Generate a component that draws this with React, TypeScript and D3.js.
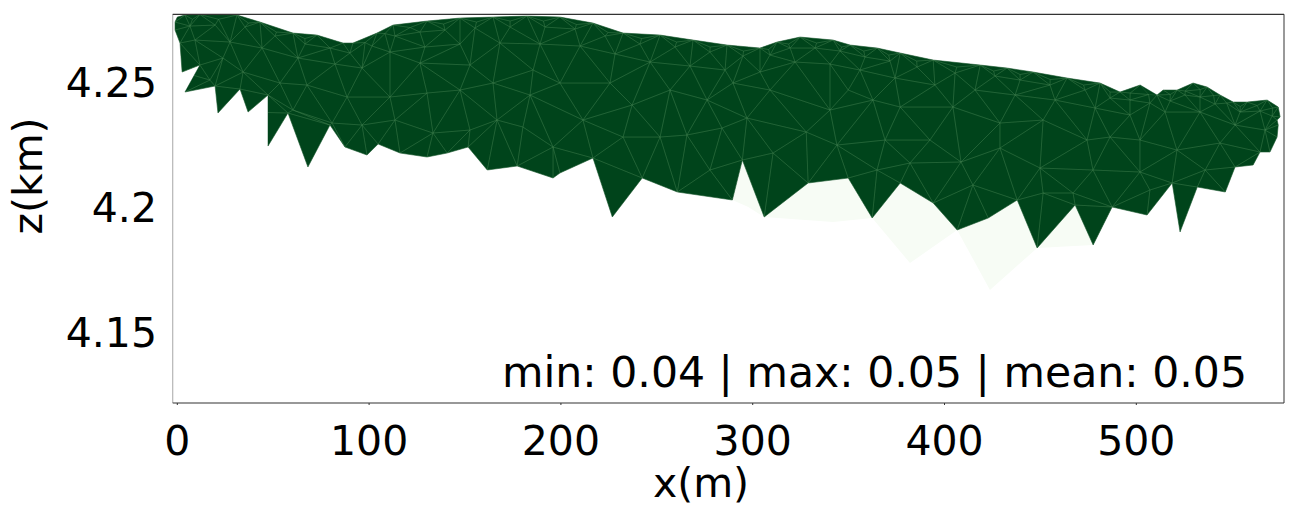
import React from 'react';
import * as d3 from 'd3';

// Surface (top boundary) of the mesh, left to right: x in m, z in km
const topX = [-1.2, 0, 4.0, 11.8, 31.1, 43.1, 60.3, 72.8, 86.4, 91.6, 104.1, 112.5, 130.2, 147.4, 164.6, 182.3, 199.5, 216.7, 232.4, 251.7, 268.9, 286.6, 303.8, 312.7, 324.7, 341.9, 350.8, 364.9, 376.9, 394.1, 418.6, 432.6, 446.2, 463.9, 481.1, 491.5, 502.0, 510.8, 514.0, 521.3, 529.6, 536.9, 543.7, 550.5, 557.8, 568.2, 574.0, 575.0];
const topZ = [4.2739, 4.2759, 4.2767, 4.2769, 4.2767, 4.2739, 4.2695, 4.2687, 4.2655, 4.2655, 4.2695, 4.2727, 4.2743, 4.2755, 4.2759, 4.2763, 4.2759, 4.2735, 4.2695, 4.2687, 4.2667, 4.2647, 4.2635, 4.2659, 4.2679, 4.2667, 4.2647, 4.2635, 4.2615, 4.2587, 4.2567, 4.2555, 4.2539, 4.2515, 4.2495, 4.2459, 4.2487, 4.2447, 4.2467, 4.2467, 4.2495, 4.2479, 4.2447, 4.2419, 4.2419, 4.2427, 4.2399, 4.2359];

// Lower boundary of the high-value cells, right to left
const bottomX = [573.4, 574.0, 573.4, 569.7, 564.5, 560.9, 551.5, 546.4, 531.8, 522.8, 518.7, 505.6, 487.4, 477.5, 468.1, 448.3, 437.9, 422.8, 406.6, 394.1, 376.9, 362.3, 349.8, 328.9, 306.0, 294.6, 289.4, 260.7, 242.4, 226.8, 216.7, 199.5, 195.9, 177.2, 161.6, 151.6, 140.7, 130.2, 116.1, 104.7, 98.9, 87.4, 79.6, 68.1, 57.7, 47.3, 47.3, 36.9, 32.7, 21.2, 19.7, 4.0, 11.8, 2.5, 1.4, -1.2];
const bottomZ = [4.2347, 4.2327, 4.2279, 4.2219, 4.2219, 4.2167, 4.2159, 4.2059, 4.2079, 4.1899, 4.2095, 4.1967, 4.1999, 4.1847, 4.2007, 4.1835, 4.2027, 4.1955, 4.1907, 4.2015, 4.2095, 4.1955, 4.2115, 4.2095, 4.1959, 4.2187, 4.2027, 4.2059, 4.2115, 4.1959, 4.2195, 4.2135, 4.2115, 4.2163, 4.2147, 4.2239, 4.2215, 4.2199, 4.2215, 4.2251, 4.2207, 4.2239, 4.2327, 4.2159, 4.2375, 4.2243, 4.2447, 4.2379, 4.2471, 4.2375, 4.2483, 4.2459, 4.2567, 4.2539, 4.2655, 4.2707];

// Mesh nodes very close below the surface (dense electrode zone)
const row0X = [7.9, 21.5, 37.1, 51.7, 66.5, 97.9, 108.3, 121.4, 138.8, 156.0, 173.5, 190.9, 208.1, 224.6, 242.1, 260.3, 277.8, 295.2, 308.3, 318.7, 333.3, 346.4, 357.9, 370.9, 385.5, 406.4, 425.6, 439.4, 455.1, 472.5, 486.3, 496.8, 506.4, 517.7, 525.5, 533.3, 540.3, 547.1, 554.2, 563.0, 571.1];
const row0Z = [4.2750, 4.2750, 4.2735, 4.2699, 4.2673, 4.2657, 4.2693, 4.2717, 4.2731, 4.2739, 4.2743, 4.2743, 4.2729, 4.2697, 4.2673, 4.2659, 4.2639, 4.2623, 4.2629, 4.2651, 4.2655, 4.2639, 4.2623, 4.2607, 4.2583, 4.2559, 4.2543, 4.2529, 4.2509, 4.2487, 4.2459, 4.2455, 4.2449, 4.2449, 4.2463, 4.2469, 4.2445, 4.2415, 4.2401, 4.2405, 4.2395];

// Mesh nodes just below the surface
const row1X = [6.6, 19.7, 35.3, 50.9, 66.6, 79.6, 90.0, 101.5, 113.5, 126.5, 139.6, 155.2, 173.5, 191.7, 207.4, 223.0, 241.2, 259.5, 277.7, 294.9, 309.0, 319.5, 332.5, 345.5, 358.6, 371.6, 385.7, 405.5, 426.3, 439.4, 455.0, 473.3, 486.3, 496.7, 507.1, 517.6, 525.4, 533.2, 541.0, 554.1, 564.5, 570.8];
const row1Z = [4.2723, 4.2727, 4.2719, 4.2683, 4.2651, 4.2635, 4.2615, 4.2643, 4.2683, 4.2699, 4.2707, 4.2715, 4.2719, 4.2719, 4.2711, 4.2683, 4.2651, 4.2639, 4.2619, 4.2603, 4.2607, 4.2635, 4.2635, 4.2623, 4.2599, 4.2583, 4.2559, 4.2535, 4.2523, 4.2507, 4.2487, 4.2467, 4.2435, 4.2427, 4.2415, 4.2423, 4.2447, 4.2439, 4.2411, 4.2379, 4.2383, 4.2363];
const row2X = [9.2, 27.5, 44.2, 62.9, 82.2, 96.3, 110.9, 129.1, 147.4, 168.2, 189.1, 210.0, 228.2, 246.5, 267.3, 285.6, 303.8, 322.1, 340.3, 355.9, 374.2, 395.0, 415.9, 436.8, 457.6, 478.5, 496.7, 515.0, 533.2, 551.5, 567.1];
const row2Z = [4.2667, 4.2659, 4.2635, 4.2595, 4.2571, 4.2555, 4.2619, 4.2639, 4.2651, 4.2655, 4.2651, 4.2643, 4.2611, 4.2579, 4.2563, 4.2547, 4.2539, 4.2579, 4.2571, 4.2547, 4.2515, 4.2487, 4.2467, 4.2447, 4.2427, 4.2395, 4.2367, 4.2379, 4.2379, 4.2327, 4.2307];

// Deeper mesh nodes
const innerX = [23.8, 34.3, 17.0, 53.5, 67.6, 60.3, 88.5, 80.7, 96.3, 110.9, 113.5, 126.5, 130.2, 133.3, 147.4, 152.6, 152.6, 164.6, 166.7, 180.2, 183.9, 185.5, 195.9, 199.5, 211.5, 225.6, 232.4, 237.1, 251.7, 256.9, 265.7, 276.2, 277.7, 284.0, 289.7, 297.0, 309.0, 310.6, 327.9, 340.3, 343.9, 349.8, 362.7, 364.8, 369.0, 376.9, 382.0, 392.4, 404.4, 408.6, 414.8, 428.9, 428.9, 449.8, 451.4, 451.4, 474.3, 477.4, 486.3, 501.9, 501.9, 521.2, 543.6, 467.0, 535.9, 507.1];
const innerZ = [4.2595, 4.2539, 4.2507, 4.2495, 4.2487, 4.2387, 4.2439, 4.2335, 4.2327, 4.2439, 4.2347, 4.2575, 4.2455, 4.2295, 4.2467, 4.2567, 4.2307, 4.2495, 4.2347, 4.2319, 4.2447, 4.2547, 4.2239, 4.2495, 4.2347, 4.2495, 4.2279, 4.2407, 4.2279, 4.2467, 4.2287, 4.2427, 4.2147, 4.2315, 4.2495, 4.2355, 4.2467, 4.2215, 4.2299, 4.2387, 4.2247, 4.2467, 4.2427, 4.2147, 4.2267, 4.2399, 4.2175, 4.2267, 4.2399, 4.2179, 4.2087, 4.2235, 4.2335, 4.2155, 4.2347, 4.2055, 4.2267, 4.2147, 4.2279, 4.2267, 4.2139, 4.2227, 4.2255, 4.2055, 4.2147, 4.2067];

// Lower boundary of the low-value (faint) cells, left to right
const faintX = [289.4, 297.7, 306.0, 341.9, 362.3, 382.0, 406.6, 423.7, 448.3, 477.5];
const faintZ = [4.2027, 4.1999, 4.1959, 4.1939, 4.1955, 4.1775, 4.1907, 4.1667, 4.1835, 4.1847];

const xTicks = [0, 100, 200, 300, 400, 500];
const zTicks = [4.15, 4.2, 4.25];
const xDomain = [-2.4, 577];
const zDomain = [4.1215, 4.277];
const statMin = 0.04;
const statMax = 0.05;
const statMean = 0.05;
const colorDomain = [statMin, statMax];

export default function App() {
  const W = 1289, H = 510;
  const left = 172.7, right = 1284, top = 14.3, bottom = 403;
  const x = d3.scaleLinear().domain(xDomain).range([left, right]);
  const y = d3.scaleLinear().domain(zDomain).range([bottom, top]);
  const color = d3.scaleSequential(d3.interpolateGreens).domain(colorDomain);
  const font = '"DejaVu Sans", "Liberation Sans", sans-serif';

  const pts = (xs: number[], zs: number[]) => xs.map((v, i) => [v, zs[i]] as [number, number]);
  const toPx = (p: [number, number][]) => p.map(([a, b]) => [x(a), y(b)] as [number, number]);

  const outline = [...pts(topX, topZ), ...pts(bottomX, bottomZ)];
  const outlinePx = toPx(outline);
  const line = d3.line();
  const darkPath = line(outlinePx) + 'Z';

  const fx0 = faintX[0], fx1 = faintX[faintX.length - 1];
  const faintPoly = [
    ...pts(faintX, faintZ),
    ...pts(bottomX, bottomZ).filter(([a]) => a >= fx0 && a <= fx1),
  ];
  const faintPath = line(toPx(faintPoly)) + 'Z';

  const nodes = toPx([
    ...outline,
    ...pts(row0X, row0Z),
    ...pts(row1X, row1Z),
    ...pts(row2X, row2Z),
    ...pts(innerX, innerZ),
  ]);
  const del = d3.Delaunay.from(nodes);
  const tri = del.triangles;
  const triPaths: string[] = [];
  for (let i = 0; i < tri.length; i += 3) {
    const a = nodes[tri[i]], b = nodes[tri[i + 1]], c = nodes[tri[i + 2]];
    const cx = (a[0] + b[0] + c[0]) / 3, cy = (a[1] + b[1] + c[1]) / 3;
    if (d3.polygonContains(outlinePx, [cx, cy])) {
      triPaths.push(`M${a[0]},${a[1]}L${b[0]},${b[1]}L${c[0]},${c[1]}Z`);
    }
  }

  const statText = `min: ${statMin.toFixed(2)} | max: ${statMax.toFixed(2)} | mean: ${statMean.toFixed(2)}`;

  return (
    <svg width={W} height={H} style={{ position: 'absolute', left: 0, top: 0, display: 'block', background: '#fff' }}>
      <defs>
        <clipPath id="meshClip">
          <path d={darkPath} />
        </clipPath>
        <clipPath id="plotClip">
          <rect x={left} y={top} width={right - left} height={bottom - top} />
        </clipPath>
      </defs>
      <g clipPath="url(#plotClip)">
        <path d={faintPath} fill={color(statMin)} stroke="none" />
        <path d={darkPath} fill={color(statMax)} stroke={color(statMax)} strokeWidth={0.5} />
        <g clipPath="url(#meshClip)">
          {triPaths.map((d, i) => (
            <path key={i} d={d} fill="none" stroke="rgb(80,140,90)" strokeOpacity={0.35} strokeWidth={0.7} />
          ))}
        </g>
      </g>
      {/* spines */}
      <line x1={left} x2={left} y1={top} y2={bottom} stroke="#b5b5b5" strokeWidth={1.2} />
      <line x1={right} x2={right} y1={top} y2={bottom} stroke="#555" strokeWidth={1.2} />
      <line x1={left} x2={right} y1={top} y2={top} stroke="#333" strokeWidth={1.2} />
      <line x1={left} x2={right} y1={bottom} y2={bottom} stroke="#333" strokeWidth={1.2} />
      {/* x ticks */}
      {xTicks.map((t) => (
        <g key={t}>
          <line x1={x(t)} x2={x(t)} y1={bottom} y2={bottom + 2} stroke="#333" strokeWidth={1} />
          <text x={x(t)} y={455} textAnchor="middle" fontFamily={font} fontSize={41} fill="#000">{String(t)}</text>
        </g>
      ))}
      {zTicks.map((t) => (
        <text key={t} x={157} y={y(t) + 15} textAnchor="end" fontFamily={font} fontSize={41} fill="#000">{String(t)}</text>
      ))}
      <text x={701} y={497} textAnchor="middle" fontFamily={font} fontSize={41} fill="#000">x(m)</text>
      <text transform={`translate(42,176) rotate(-90)`} textAnchor="middle" fontFamily={font} fontSize={41} fill="#000">z(km)</text>
      <text x={1247} y={387} textAnchor="end" fontFamily={font} fontSize={42.6} fill="#000">{statText}</text>
    </svg>
  );
}
